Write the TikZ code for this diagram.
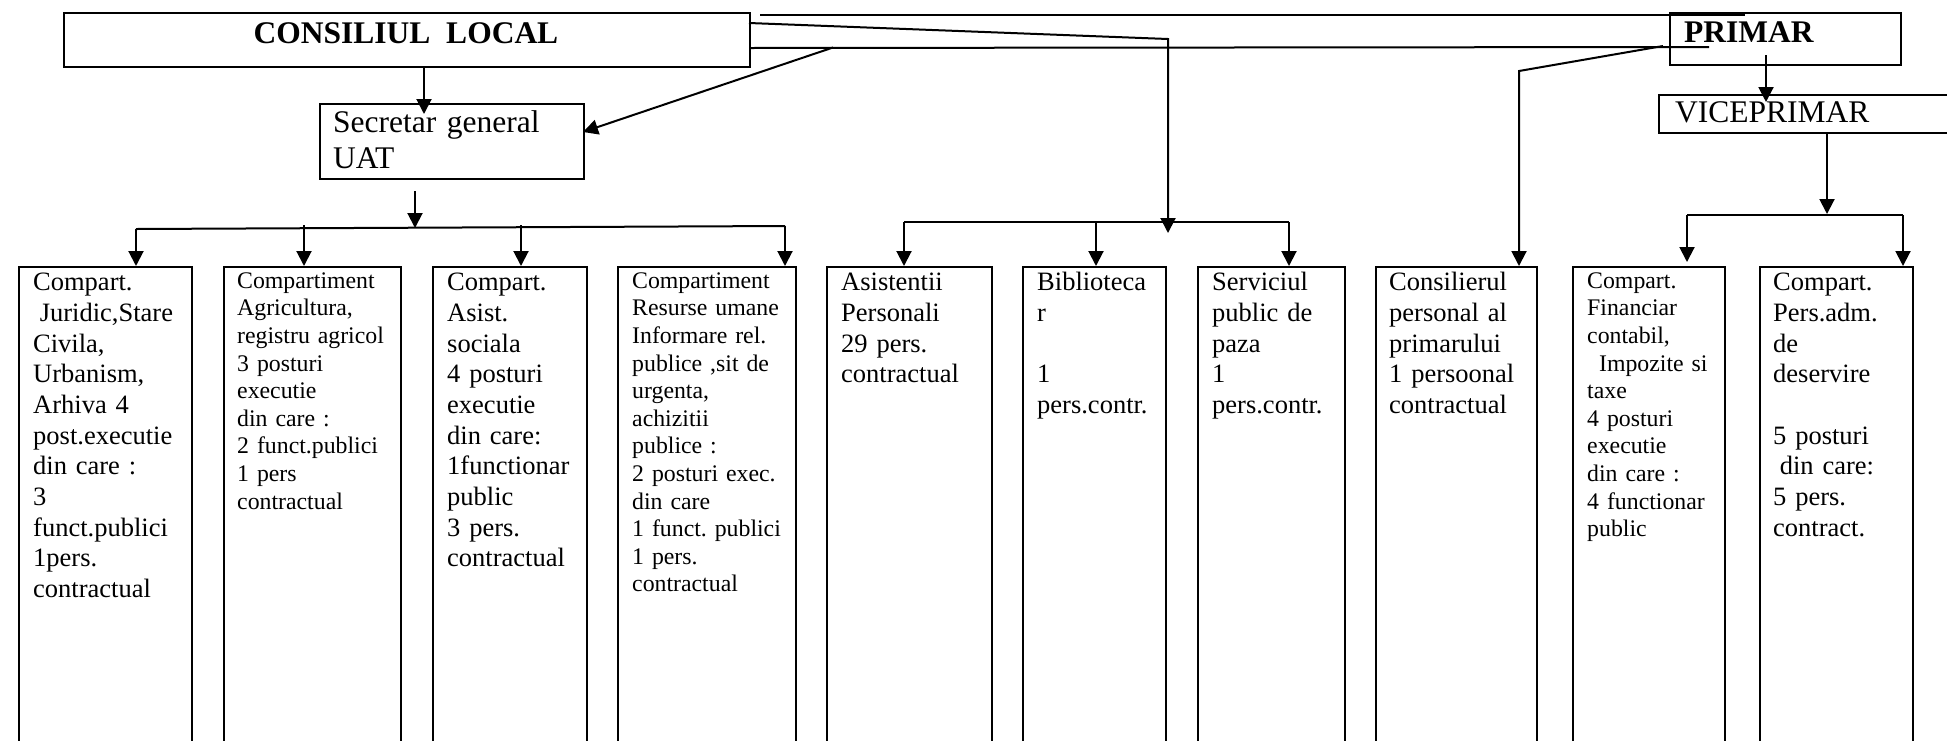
\documentclass[tikz,border=0pt]{standalone}
\usepackage{fontspec}
\setmainfont{Liberation Serif}
\usetikzlibrary{arrows.meta}
\frenchspacing
\begin{document}
\frenchspacing
\begin{tikzpicture}[x=1pt,y=-1pt,
  box/.style={draw, line width=2.4pt, inner sep=0pt, anchor=north west},
  lnk/.style={line width=2pt},
  arr/.style={line width=2pt, -{Triangle[width=15pt,length=15pt]}},
  fbig/.style={font=\fontsize{31.5}{36.6}\selectfont},
  fbold/.style={font=\fontsize{31.5}{36.6}\selectfont\bfseries},
  txtM/.style={anchor=north west, inner sep=0pt, align=left, text width=170pt, font=\fontsize{26.5}{30.7}\selectfont\frenchspacing},
  txtS/.style={anchor=north west, inner sep=0pt, align=left, text width=170pt, font=\fontsize{23.8}{27.6}\selectfont\frenchspacing}]
\useasboundingbox (0,0) rectangle (1947,740);
\clip (0,0) rectangle (1947,740);

% top level boxes
\node[box, minimum width=686pt, minimum height=54pt] (cl) at (63,12) {};
\node[box, minimum width=264pt, minimum height=75pt] (sec) at (319,103) {};
\node[box, minimum width=231pt, minimum height=52pt] (pri) at (1669,12) {};
\node[box, minimum width=310pt, minimum height=38pt] (vice) at (1658,94) {};

\node[fbold, anchor=base, inner sep=0pt] (clt) at (406,43) {CONSILIUL\ \ LOCAL};
\node[fbold, anchor=base west, inner sep=0pt] (prit) at (1684,42) {PRIMAR};
\node[fbig, anchor=base west, inner sep=0pt] (vicet) at (1675,122.5) {VICEPRIMAR};
\node[fbig, anchor=north west, inner sep=0pt, align=left, text width=250pt] (sect) at (333,106.4) {\strut Secretar general\\UAT};

% bottom boxes
\node[box, minimum width=173pt, minimum height=500pt] (b1) at (18,266) {};
\node[box, minimum width=177pt, minimum height=500pt] (b2) at (223,266) {};
\node[box, minimum width=154pt, minimum height=500pt] (b3) at (432,266) {};
\node[box, minimum width=178pt, minimum height=500pt] (b4) at (617,266) {};
\node[box, minimum width=165pt, minimum height=500pt] (b5) at (826,266) {};
\node[box, minimum width=143pt, minimum height=500pt] (b6) at (1022,266) {};
\node[box, minimum width=147pt, minimum height=500pt] (b7) at (1197,266) {};
\node[box, minimum width=161pt, minimum height=500pt] (b8) at (1375,266) {};
\node[box, minimum width=152pt, minimum height=500pt] (b9) at (1572,266) {};
\node[box, minimum width=153pt, minimum height=500pt] (b10) at (1759,266) {};

\node[txtM] (t1) at (33,269) {\strut Compart.\\\hspace*{0.25em}Juridic,Stare\\Civila,\\Urbanism,\\Arhiva 4\\post.executie\\din care :\\3\\funct.publici\\1pers.\\contractual};
\node[txtS] (t2) at (237,268.7) {\strut Compartiment\\Agricultura,\\registru agricol\\3 posturi\\executie\\din care :\\2 funct.publici\\1 pers\\contractual};
\node[txtM] (t3) at (447,269) {\strut Compart.\\Asist.\\sociala\\4 posturi\\executie\\din care:\\1functionar\\public\\3 pers.\\contractual};
\node[txtS] (t4) at (632,268.7) {\strut Compartiment\\Resurse umane\\Informare rel.\\publice ,sit de\\urgenta,\\achizitii\\publice :\\2 posturi exec.\\din care\\1 funct. publici\\1 pers.\\contractual};
\node[txtM] (t5) at (841,269) {\strut Asistentii\\Personali\\29 pers.\\contractual};
\node[txtM] (t6) at (1037,269) {\strut Biblioteca\\r\\\mbox{}\\1\\pers.contr.};
\node[txtM] (t7) at (1212,269) {\strut Serviciul\\public de\\paza\\1\\pers.contr.};
\node[txtM] (t8) at (1389,269) {\strut Consilierul\\personal al\\primarului\\1 persoonal\\contractual};
\node[txtS] (t9) at (1587,268.7) {\strut Compart.\\Financiar\\contabil,\\\hspace*{0.5em}Impozite si\\taxe\\4 posturi\\executie\\din care :\\4 functionar\\public};
\node[txtM] (t10) at (1773,269) {\strut Compart.\\Pers.adm.\\de\\deservire\\\mbox{}\\5 posturi\\\hspace*{0.25em}din care:\\5 pers.\\contract.};

% connector points
\coordinate (k1) at (424,114);
\coordinate (k2) at (833,47.5);
\coordinate (k3) at (583,132);
\coordinate (s1) at (415,191);
\coordinate (s2) at (415,228);
\coordinate (u1) at (136,229);
\coordinate (u2) at (304,225);
\coordinate (u3) at (521,225);
\coordinate (u4) at (785,226);
\coordinate (m1) at (760,15);
\coordinate (m2) at (1745,15);
\coordinate (m3) at (749,23);
\coordinate (m4) at (1168,39);
\coordinate (m5) at (1168,233);
\coordinate (m6) at (749,48);
\coordinate (m7) at (1709,47);
\coordinate (v1) at (904,222);
\coordinate (v2) at (1096,222);
\coordinate (v3) at (1289,222);
\coordinate (p1) at (1663,46);
\coordinate (p2) at (1519,71);
\coordinate (p3) at (1766,55);
\coordinate (p4) at (1766,102);
\coordinate (w0) at (1827,214);
\coordinate (w1) at (1687,215);
\coordinate (w2) at (1903,215);
\coordinate (w3) at (1687,262);

% Consiliul -> Secretar
\draw[arr] (cl.south -| k1) -- (k1);
\draw[arr] (k2) -- (k3);
% Secretar -> compartments
\draw[arr] (s1) -- (s2);
\draw[lnk] (u1) -- (u4);
\draw[arr] (u1) -- (u1 |- b1.north);
\draw[arr] (u2) -- (u2 |- b2.north);
\draw[arr] (u3) -- (u3 |- b3.north);
\draw[arr] (u4) -- (u4 |- b4.north);
% long lines at top
\draw[lnk] (m1) -- (m2);
\draw[arr] (m3) -- (m4) -- (m5);
\draw[lnk] (m6) -- (m7);
% second bus
\draw[lnk] (v1) -- (v3);
\draw[arr] (v1) -- (v1 |- b5.north);
\draw[arr] (v2) -- (v2 |- b6.north);
\draw[arr] (v3) -- (v3 |- b7.north);
% Primar -> consilier
\draw[arr] (p1) -- (p2) -- (p2 |- b8.north);
% Primar -> Viceprimar
\draw[arr] (p3) -- (p4);
% Viceprimar -> compartments
\draw[arr] (vice.south -| w0) -- (w0);
\draw[lnk] (w1) -- (w2);
\draw[arr] (w1) -- (w3);
\draw[arr] (w2) -- (w2 |- b10.north);
\end{tikzpicture}
\end{document}
